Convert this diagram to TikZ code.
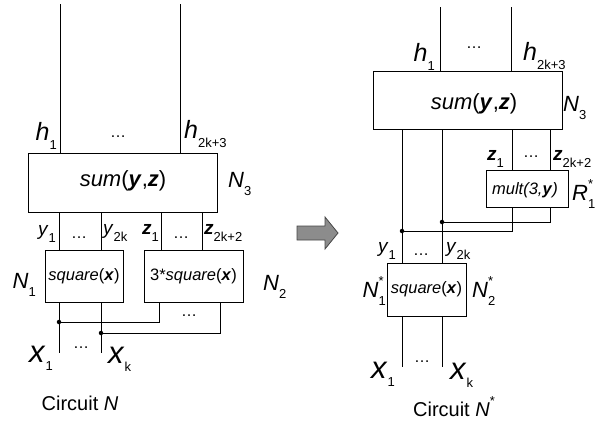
\documentclass[tikz,border=0pt]{standalone}
\usepackage{fontspec}
\setmainfont{Liberation Sans}
\definecolor{arrowfill}{RGB}{140,140,140}
\definecolor{arrowline}{RGB}{70,70,70}
\newcommand\subs[1]{\raisebox{-0.33em}{\fontsize{13}{13}\selectfont #1}}
\newcommand\supsub[2]{\rlap{\raisebox{0.55em}{\fontsize{13}{13}\selectfont #1}}\raisebox{-0.33em}{\fontsize{13}{13}\selectfont #2}}
\newcommand\bv[1]{\textbf{\textit{#1}}}
\newcommand\xin[1]{{\fontsize{31}{31}\selectfont\textit{x}}\raisebox{-8pt}{\fontsize{13}{13}\selectfont #1}}
\begin{document}
\begin{tikzpicture}[x=1pt,y=-1pt,
  box/.style={draw, line width=1pt, inner sep=0pt, font=\fontsize{16.5}{18}\selectfont},
  wire/.style={line width=1pt},
  lbl/.style={inner sep=0pt, font=\fontsize{22}{24}\selectfont},
  hlbl/.style={inner sep=0pt, font=\fontsize{25}{27}\selectfont},
  slbl/.style={inner sep=0pt, font=\fontsize{19}{21}\selectfont},
  dotlbl/.style={inner sep=0pt, anchor=base, font=\fontsize{16}{16}\selectfont},
  junction/.style={circle, fill, inner sep=0pt, minimum size=4.5pt},
  title/.style={inner sep=0pt, font=\fontsize{20}{22}\selectfont}]
\useasboundingbox (0,0) rectangle (613,424);

% ================= left: circuit N =================
\node[box, minimum width=189pt, minimum height=59pt] (sumL) at (122.5,182.5) {};
\node[lbl] (sumLt) at (123,181) {\textit{sum}(\bv{y},\bv{z})};
\node[box, minimum width=78pt, minimum height=52pt] (sqL) at (84,276) {\textit{square}(\bv{x})};
\node[box, minimum width=99pt, minimum height=52pt] (sq3L) at (193.5,276) {3*\textit{square}(\bv{x})};

\coordinate (hL1) at (60,4);
\coordinate (hL2) at (180,4);
\draw[wire] (hL1) -- (hL1 |- sumL.north);
\draw[wire] (hL2) -- (hL2 |- sumL.north);

\coordinate (cL1) at (59,0);
\coordinate (cL2) at (101,0);
\coordinate (cL3) at (161,0);
\coordinate (cL4) at (202,0);
\draw[wire] (sumL.south -| cL1) -- (sqL.north -| cL1);
\draw[wire] (sumL.south -| cL2) -- (sqL.north -| cL2);
\draw[wire] (sumL.south -| cL3) -- (sq3L.north -| cL3);
\draw[wire] (sumL.south -| cL4) -- (sq3L.north -| cL4);

\coordinate (xL1) at (59,353);
\coordinate (xL2) at (101,353);
\draw[wire] (sqL.south -| xL1) -- (xL1);
\draw[wire] (sqL.south -| xL2) -- (xL2);
\coordinate (jL1) at (159,322);
\coordinate (jL2) at (220,333);
\draw[wire] (sq3L.south -| jL1) -- (jL1) -- (jL1 -| xL1);
\draw[wire] (sq3L.south -| jL2) -- (jL2) -- (jL2 -| xL2);
\node[junction] (dL1) at (jL1 -| xL1) {};
\node[junction] (dL2) at (jL2 -| xL2) {};

\node[hlbl, anchor=east] (h1L) at (57,136) {\textit{h}\subs{1}};
\node[dotlbl] (hdL) at (118,137) {…};
\node[hlbl, anchor=west] (h2L) at (184,134) {\textit{h}\subs{2k+3}};
\node[lbl, anchor=west] (N3L) at (228,184) {\textit{N}\subs{3}};
\node[slbl, anchor=east] (y1L) at (56,234) {\textit{y}\subs{1}};
\node[dotlbl] (ydL) at (79,238) {…};
\node[slbl, anchor=west] (y2L) at (103,233) {\textit{y}\subs{2k}};
\node[slbl, anchor=east] (z1L) at (159,233) {\bv{z}\subs{1}};
\node[dotlbl] (zdL) at (181,238) {…};
\node[slbl, anchor=west] (z2L) at (204,233) {\bv{z}\subs{2k+2}};
\node[lbl, anchor=east] (N1L) at (36,285) {\textit{N}\subs{1}};
\node[lbl, anchor=west] (N2L) at (263,287) {\textit{N}\subs{2}};
\node[dotlbl] (jdL) at (189,316) {…};
\node[inner sep=0pt, anchor=east] (x1L) at (53,358) {\xin{1}};
\node[dotlbl] (xdL) at (81,348) {…};
\node[inner sep=0pt, anchor=west] (x2L) at (108,359) {\xin{k}};
\node[title] (tL) at (80,403) {Circuit \textit{N}};

% ================= arrow =================
\draw[fill=arrowfill, draw=arrowline, line width=0.8pt]
  (297,226) -- (325,226) -- (325,217) -- (338,233) -- (325,249) -- (325,240) -- (297,240) -- cycle;

% ================= right: circuit N* =================
\node[box, minimum width=189pt, minimum height=58pt] (sumR) at (467.5,100) {};
\node[lbl] (sumRt) at (474,104) {\textit{sum}(\bv{y},\bv{z})};
\node[box, minimum width=82pt, minimum height=37pt] (multR) at (527,188.5) {};
\node[inner sep=0pt, font=\fontsize{16.5}{18}\selectfont] (multRt) at (525,190) {\textit{mult(3,}\bv{y}\textit{)}};
\node[box, minimum width=79pt, minimum height=53pt] (sqR) at (426.5,289.5) {\textit{square}(\bv{x})};

\coordinate (hR1) at (440,7);
\coordinate (hR2) at (511,7);
\draw[wire] (hR1) -- (hR1 |- sumR.north);
\draw[wire] (hR2) -- (hR2 |- sumR.north);

\coordinate (cR1) at (402,0);
\coordinate (cR2) at (442,0);
\coordinate (cR3) at (512,0);
\coordinate (cR4) at (550,0);
\draw[wire] (sumR.south -| cR1) -- (sqR.north -| cR1);
\draw[wire] (sumR.south -| cR2) -- (sqR.north -| cR2);
\draw[wire] (sumR.south -| cR3) -- (multR.north -| cR3);
\draw[wire] (sumR.south -| cR4) -- (multR.north -| cR4);
\coordinate (jR1) at (512,231);
\coordinate (jR2) at (550,222);
\draw[wire] (multR.south -| jR1) -- (jR1) -- (jR1 -| cR1);
\draw[wire] (multR.south -| jR2) -- (jR2) -- (jR2 -| cR2);
\node[junction] (dR1) at (jR1 -| cR1) {};
\node[junction] (dR2) at (jR2 -| cR2) {};

\coordinate (xR1) at (402,367);
\coordinate (xR2) at (442,367);
\draw[wire] (sqR.south -| xR1) -- (xR1);
\draw[wire] (sqR.south -| xR2) -- (xR2);

\node[hlbl, anchor=east] (h1R) at (435,57) {\textit{h}\subs{1}};
\node[dotlbl] (hdR) at (474,48) {…};
\node[hlbl, anchor=west] (h2R) at (523,56) {\textit{h}\subs{2k+3}};
\node[lbl, anchor=west] (N3R) at (563,108) {\textit{N}\subs{3}};
\node[slbl, anchor=east] (z1R) at (504,159) {\bv{z}\subs{1}};
\node[dotlbl] (zdR) at (531,157) {…};
\node[slbl, anchor=west] (z2R) at (553,159) {\bv{z}\subs{2k+2}};
\node[lbl, anchor=west] (R1R) at (572,194) {\textit{R}\supsub{*}{1}};
\node[slbl, anchor=east] (y1R) at (396,251) {\textit{y}\subs{1}};
\node[dotlbl] (ydR) at (421,255) {…};
\node[slbl, anchor=west] (y2R) at (446,251) {\textit{y}\subs{2k}};
\node[lbl, anchor=east] (N1R) at (386,291) {\textit{N}\supsub{*}{1}};
\node[lbl, anchor=west] (N2R) at (472,291) {\textit{N}\supsub{*}{2}};
\node[inner sep=0pt, anchor=east] (x1R) at (395,374) {\xin{1}};
\node[dotlbl] (xdR) at (422,362) {…};
\node[inner sep=0pt, anchor=west] (x2R) at (450,375) {\xin{k}};
\node[title] (tR) at (454,407) {Circuit \textit{N}\raisebox{0.55em}{\fontsize{13}{13}\selectfont *}};
\end{tikzpicture}
\end{document}
